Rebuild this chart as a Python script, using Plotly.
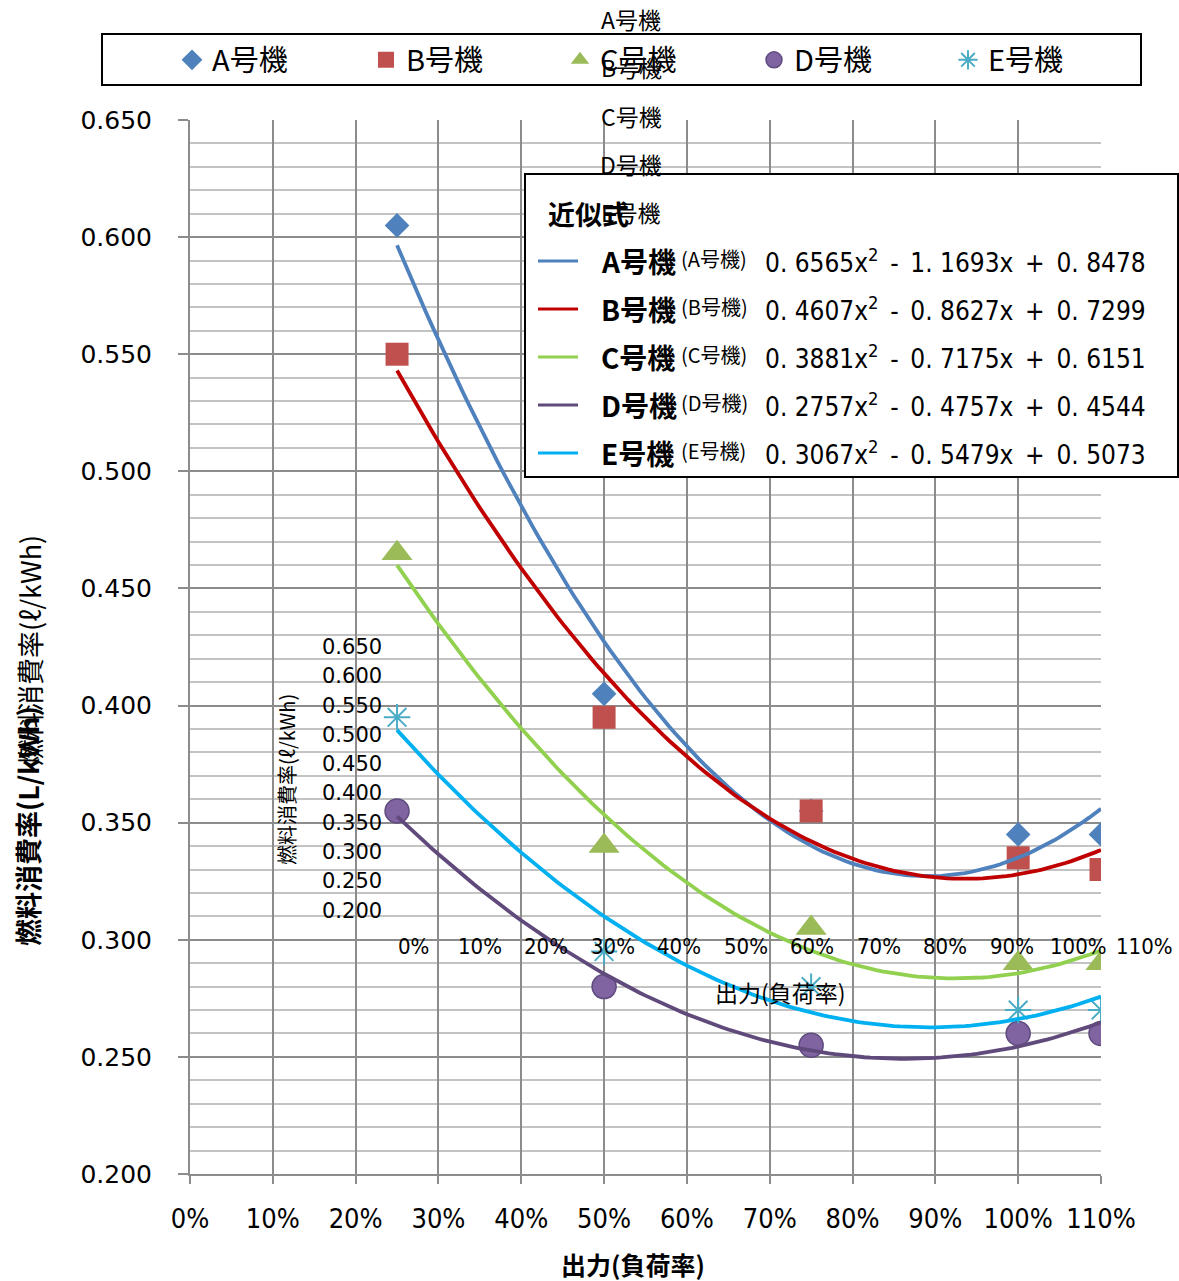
import numpy as np
import plotly.graph_objects as go

# ---- data -------------------------------------------------------------
units = ["A号機", "B号機", "C号機", "D号機", "E号機"]
load = [0.25, 0.50, 0.75, 1.00, 1.10]          # 出力 (負荷率)

rate_a = [0.605, 0.405, 0.355, 0.345, 0.345]   # 燃料消費率 (L/kWh)
rate_b = [0.550, 0.395, 0.355, 0.335, 0.330]
rate_c = [0.465, 0.340, 0.305, 0.290, 0.290]
rate_d = [0.355, 0.280, 0.255, 0.260, 0.260]
rate_e = [0.395, 0.295, 0.280, 0.270, 0.270]

# quadratic trend coefficients: [x^2, x, 1]
coef_a = [0.6565, -1.1693, 0.8478]
coef_b = [0.4607, -0.8627, 0.7299]
coef_c = [0.3881, -0.7175, 0.6151]
coef_d = [0.2757, -0.4757, 0.4544]
coef_e = [0.3067, -0.5479, 0.5073]

x_ticks = [0.0, 0.1, 0.2, 0.3, 0.4, 0.5, 0.6, 0.7, 0.8, 0.9, 1.0, 1.1]
x_tick_labels = ["0%", "10%", "20%", "30%", "40%", "50%", "60%", "70%",
                 "80%", "90%", "100%", "110%"]
y_ticks = [0.200, 0.250, 0.300, 0.350, 0.400, 0.450, 0.500, 0.550, 0.600, 0.650]
y_tick_labels = ["0.200", "0.250", "0.300", "0.350", "0.400", "0.450",
                 "0.500", "0.550", "0.600", "0.650"]

rates = [rate_a, rate_b, rate_c, rate_d, rate_e]
coefs = [coef_a, coef_b, coef_c, coef_d, coef_e]

# ---- styling ----------------------------------------------------------
W, H = 1179, 1281
L, R, T, B = 190, 1101, 120, 1174     # plot-area edges in px

def px(x):
    return (x - L) / (R - L)

def py(y):
    return (B - y) / (B - T)

marker_colors = ["#4F81BD", "#C0504D", "#9BBB59", "#8064A2", "#4BACC6"]
marker_symbols = ["diamond", "square", "triangle-up", "circle", "asterisk-open"]
marker_sizes = [19, 23, 27, 24, 22]
trend_colors = ["#4F81BD", "#C00000", "#92D050", "#604A7B", "#00B0F0"]

CJK = "Noto Sans CJK JP"
NARROW = "Liberation Sans Narrow, DejaVu Sans Condensed, Liberation Sans"
GRID = "#8C8C8C"
MINOR = "#C3C3C3"

fig = go.Figure()

for name, ys, col, sym, size in zip(units, rates, marker_colors, marker_symbols, marker_sizes):
    mk = dict(symbol=sym, size=size, color=col, line=dict(width=0, color=col))
    if sym == "circle":
        mk["line"] = dict(width=1.5, color="#5E4A7E")
    if sym == "asterisk-open":
        mk["line"] = dict(width=2, color=col)
    fig.add_trace(go.Scatter(x=load, y=ys, mode="markers", name=name, marker=mk))

# fitted quadratic trend lines
xs = np.linspace(load[0], load[-1], 120)
for name, c, col in zip(units, coefs, trend_colors):
    fig.add_trace(go.Scatter(x=xs, y=np.polyval(c, xs), mode="lines",
                             line=dict(color=col, width=3.8),
                             showlegend=False, hoverinfo="skip", name=name))

shapes = []
annotations = []

# legend frame
shapes.append(dict(type="rect", xref="paper", yref="paper",
                   x0=px(102), x1=px(1141), y0=py(85), y1=py(34),
                   line=dict(color="black", width=2), fillcolor="rgba(0,0,0,0)"))

# trend-equation box
shapes.append(dict(type="rect", xref="paper", yref="paper", layer="above",
                   x0=px(525), x1=px(1178), y0=py(477), y1=py(174),
                   line=dict(color="black", width=2), fillcolor="white"))
annotations.append(dict(text="<b>近似式</b>", x=px(546), y=py(213), xref="paper", yref="paper",
                        xanchor="left", yanchor="middle", showarrow=False,
                        font=dict(family=CJK, size=27, color="black")))

for i, (name, c, col) in enumerate(zip(units, coefs, trend_colors)):
    yy = 261 + 48 * i
    shapes.append(dict(type="line", xref="paper", yref="paper", layer="above",
                       x0=px(538), x1=px(578), y0=py(yy), y1=py(yy),
                       line=dict(color=col, width=3)))
    annotations.append(dict(text=f"<b>{name}</b>", x=px(599), y=py(yy), xref="paper", yref="paper",
                            xanchor="left", yanchor="middle", showarrow=False,
                            font=dict(family=CJK, size=28, color="black")))
    annotations.append(dict(text=f"({name})", x=px(679), y=py(yy - 3), xref="paper", yref="paper",
                            xanchor="left", yanchor="middle", showarrow=False,
                            font=dict(family=CJK, size=20, color="black")))
    sp = "\u2002"
    eq = (f"{c[0]:.4f}".replace(".", ". ") + "x<sup>2</sup>" + sp + "-" + sp
          + f"{-c[1]:.4f}".replace(".", ". ") + "x" + sp + "+" + sp
          + f"{c[2]:.4f}".replace(".", ". "))
    annotations.append(dict(text=eq, x=px(763), y=py(yy), xref="paper", yref="paper",
                            xanchor="left", yanchor="middle", showarrow=False,
                            font=dict(family=NARROW, size=26, color="black")))

# series names stacked down the middle
for i, name in enumerate(units):
    annotations.append(dict(text=name, x=px(631), y=py(19 + 48.3 * i), xref="paper", yref="paper",
                            xanchor="center", yanchor="middle", showarrow=False,
                            font=dict(family=CJK, size=23, color="black")))

# secondary axis labels inside the plot
for i, lab in enumerate(reversed(y_tick_labels)):
    annotations.append(dict(text=lab, x=px(384), y=py(647 + 29.3 * i), xref="paper", yref="paper",
                            xanchor="right", yanchor="middle", showarrow=False,
                            font=dict(family="DejaVu Sans", size=21, color="black")))
for i, lab in enumerate(x_tick_labels):
    annotations.append(dict(text=lab, x=px(413 + 66.5 * i), y=py(946), xref="paper", yref="paper",
                            xanchor="center", yanchor="middle", showarrow=False,
                            font=dict(family=NARROW, size=22, color="black")))
annotations.append(dict(text="出力(負荷率)", x=px(780), y=py(992), xref="paper", yref="paper",
                        xanchor="center", yanchor="middle", showarrow=False,
                        font=dict(family=CJK, size=23, color="black")))
annotations.append(dict(text="燃料消費率(ℓ/kWh)", x=px(286), y=py(780), xref="paper", yref="paper",
                        xanchor="center", yanchor="middle", showarrow=False, textangle=-90,
                        font=dict(family=CJK, size=20, color="black")))

# axis titles
annotations.append(dict(text="<b>燃料消費率(L/kWh)</b>", x=px(27), y=py(826), xref="paper", yref="paper",
                        xanchor="center", yanchor="middle", showarrow=False, textangle=-90,
                        font=dict(family=CJK, size=27, color="black")))
annotations.append(dict(text="燃料消費率(ℓ/kWh)", x=px(29), y=py(651), xref="paper", yref="paper",
                        xanchor="center", yanchor="middle", showarrow=False, textangle=-90,
                        font=dict(family=CJK, size=27, color="black")))
annotations.append(dict(text="<b>出力(負荷率)</b>", x=px(633), y=py(1264), xref="paper", yref="paper",
                        xanchor="center", yanchor="middle", showarrow=False,
                        font=dict(family=CJK, size=25, color="black")))

fig.update_layout(
    width=W, height=H,
    margin=dict(l=L, r=W - R, t=T, b=H - B, autoexpand=False),
    paper_bgcolor="white", plot_bgcolor="white",
    showlegend=True,
    legend=dict(orientation="h", x=px(172), xanchor="left", y=py(60), yanchor="middle",
                entrywidth=149, entrywidthmode="pixels", itemwidth=30,
                font=dict(family=CJK, size=29, color="black"),
                bgcolor="rgba(0,0,0,0)", borderwidth=0),
    xaxis=dict(range=[0, 1.1], tickvals=x_ticks, ticktext=x_tick_labels,
               showgrid=True, gridcolor=GRID, gridwidth=2, zeroline=False,
               showline=True, linecolor=GRID, linewidth=2,
               ticks="outside", ticklen=8, tickwidth=2, tickcolor=GRID,
               ticklabelstandoff=12,
               tickfont=dict(family=NARROW, size=27, color="black")),
    yaxis=dict(range=[0.2, 0.65], tickvals=y_ticks, ticktext=y_tick_labels,
               showgrid=True, gridcolor=GRID, gridwidth=2, zeroline=False,
               showline=True, linecolor=GRID, linewidth=2,
               ticks="outside", ticklen=10, tickwidth=2, tickcolor=GRID,
               ticklabelstandoff=21,
               tickfont=dict(family="DejaVu Sans", size=25, color="black"),
               minor=dict(dtick=0.01, tick0=0.2, showgrid=True, gridcolor=MINOR, gridwidth=2)),
    shapes=shapes,
    annotations=annotations,
)

fig.write_html("out.html")
